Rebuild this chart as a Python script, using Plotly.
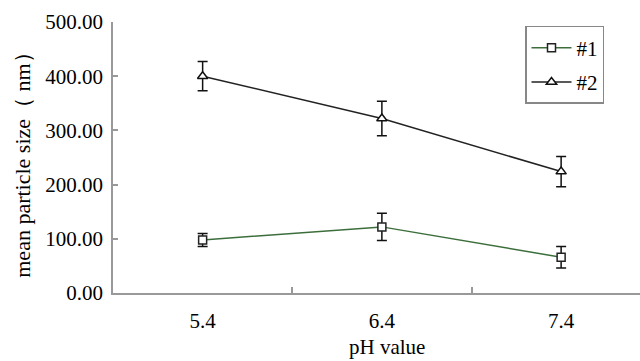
import plotly.graph_objects as go

ph_labels = ["5.4", "6.4", "7.4"]
s1_values = [98, 122, 66]
s1_errors = [12, 25, 20]
s2_values = [400, 322, 224]
s2_errors = [27, 32, 28]
y_ticks = [0, 100, 200, 300, 400, 500]
y_ticktext = ["0.00", "100.00", "200.00", "300.00", "400.00", "500.00"]

FONT = "'Liberation Serif', 'Times New Roman', serif"
W, H = 640, 361
L, R, T, B = 113, 0, 22, 67.5
pw = W - L - R
ph = H - T - B

fig = go.Figure()
fig.add_trace(go.Scatter(
    x=ph_labels, y=s1_values, name="#1", mode="lines+markers",
    line=dict(color="#3c6e3c", width=1.5),
    marker=dict(symbol="square", size=8, color="white", line=dict(color="#222", width=1.5)),
    error_y=dict(type="data", array=s1_errors, visible=True, color="#111", thickness=1.5, width=5),
    legendgroup="g1",
))
fig.add_trace(go.Scatter(
    x=ph_labels, y=s2_values, name="#2", mode="lines+markers",
    line=dict(color="#222222", width=1.5),
    marker=dict(symbol="triangle-up", size=9, color="white", line=dict(color="#111", width=1.5)),
    error_y=dict(type="data", array=s2_errors, visible=True, color="#111", thickness=1.5, width=5),
    legendgroup="g2",
))

fig.update_layout(
    width=W, height=H,
    margin=dict(l=L, r=R, t=T, b=B, pad=0),
    paper_bgcolor="white", plot_bgcolor="white",
    font=dict(family=FONT, size=21, color="#000"),
    showlegend=True,
    legend=dict(
        x=(525 - L) / pw, y=(H - B - 26) / ph, xanchor="left", yanchor="top",
        bordercolor="#888", borderwidth=1.5, bgcolor="white",
        font=dict(family=FONT, size=21, color="#000"),
        tracegroupgap=4, itemwidth=40,
    ),
    xaxis=dict(
        type="category", range=[-0.5, 2.44],
        showline=True, linecolor="#999", linewidth=1.5,
        ticks="inside", ticklen=6, tickcolor="#999", tickwidth=1.5,
        tickson="boundaries", showgrid=False, zeroline=False,
        ticklabelstandoff=8,
        tickfont=dict(family=FONT, size=21, color="#000"),
    ),
    yaxis=dict(
        range=[0, 500], tickvals=y_ticks, ticktext=y_ticktext,
        showline=True, linecolor="#999", linewidth=1.5,
        ticks="inside", ticklen=5, tickcolor="#999", tickwidth=1.5,
        showgrid=False, zeroline=False,
        ticklabelstandoff=4,
        tickfont=dict(family=FONT, size=21, color="#000"),
    ),
    annotations=[
        dict(text="mean particle size（ nm）", xref="paper", yref="paper",
             x=(23 - L) / pw, y=(H - B - 160) / ph, textangle=-90, showarrow=False,
             xanchor="center", yanchor="middle",
             font=dict(family=FONT, size=22, color="#000")),
        dict(text="pH value", xref="paper", yref="paper",
             x=(387 - L) / pw, y=(H - B - 348) / ph, showarrow=False,
             xanchor="center", yanchor="middle",
             font=dict(family=FONT, size=21, color="#000")),
    ],
)

fig.write_html("out.html")
